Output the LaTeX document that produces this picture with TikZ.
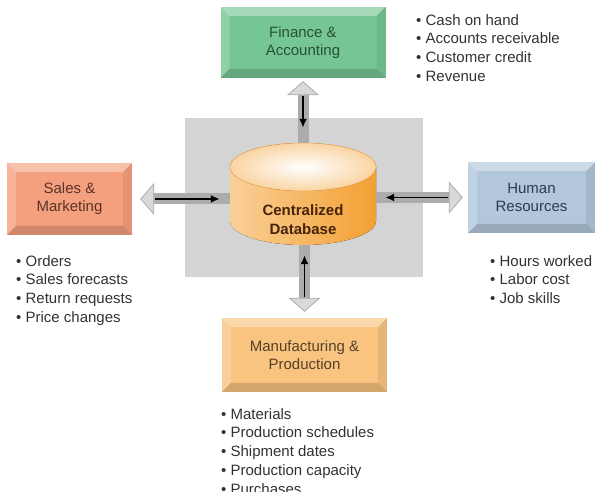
\documentclass[tikz,border=0pt]{standalone}
\usepackage{fontspec}
\setmainfont{Liberation Sans}
\usetikzlibrary{shapes,arrows.meta}

\definecolor{fincol}{RGB}{118,198,148}
\definecolor{fintext}{RGB}{40,80,55}
\definecolor{salescol}{RGB}{244,160,126}
\definecolor{salestext}{RGB}{90,50,40}
\definecolor{hrcol}{RGB}{178,199,219}
\definecolor{hrtext}{RGB}{45,60,75}
\definecolor{mfgcol}{RGB}{248,196,128}
\definecolor{mfgtext}{RGB}{85,65,40}
\definecolor{dbcol}{RGB}{243,160,50}
\definecolor{dbtext}{RGB}{70,35,10}
\definecolor{backgray}{RGB}{212,212,212}
\definecolor{listtext}{RGB}{50,50,50}

% raised frame drawn inside each department box
\newcommand{\bevelframe}{%
  \path (path picture bounding box.south west) coordinate (bsw)
        (path picture bounding box.north east) coordinate (bne)
        (bsw |- bne) coordinate (bnw) (bne |- bsw) coordinate (bse);
  \fill[white, opacity=0.35] (bnw) -- (bne) -- ([shift={(-9pt,-9pt)}]bne) -- ([shift={(9pt,-9pt)}]bnw) -- cycle;
  \fill[white, opacity=0.2] (bnw) -- (bsw) -- ([shift={(9pt,9pt)}]bsw) -- ([shift={(9pt,-9pt)}]bnw) -- cycle;
  \fill[black, opacity=0.15] (bsw) -- (bse) -- ([shift={(-9pt,9pt)}]bse) -- ([shift={(9pt,9pt)}]bsw) -- cycle;
  \fill[black, opacity=0.07] (bse) -- (bne) -- ([shift={(-9pt,-9pt)}]bne) -- ([shift={(-9pt,9pt)}]bse) -- cycle;
}

\tikzstyle{dept} = [rectangle, text centered, align=center, inner sep=0pt,
font=\fontsize{15}{18}\selectfont, path picture={\bevelframe}]
\tikzstyle{dbtext} = [align=center, text=dbtext, font=\fontsize{15}{19}\selectfont\bfseries]
\tikzstyle{facts} = [anchor=north west, align=left, inner sep=0pt, text=listtext,
font=\fontsize{15}{18.8}\selectfont]
\tikzstyle{link} = [draw=gray!65, line width=11pt,
-{Triangle[length=14pt, width=32pt, line width=0.8pt, fill=gray!30]}]
\tikzstyle{feed} = [draw=black, line width=1.8pt, -{Latex[length=9pt, width=8pt]}]

\begin{document}
\begin{tikzpicture}[x=1pt, y=1pt]
		\useasboundingbox (0,0) rectangle (597,492);
		% grey backdrop and the database cylinder
		\fill[backgray] (185,215) rectangle (423,374);
		\fill[left color=dbcol!50, right color=dbcol] (230,325) -- (230,271)
		arc[start angle=180, end angle=360, x radius=73, y radius=24] -- (376,325) -- cycle;
		\fill[inner color=white, outer color=dbcol!45] (303,325) ellipse[x radius=73, y radius=24];
		\draw[dbcol!85, line width=0.5pt] (303,325) ellipse[x radius=73, y radius=24];
		\node [minimum width=146pt, minimum height=102pt] (db) at (303,298) {};
		\node [dbtext] (dblabel) at (303,272) {Centralized\\Database};
		% departments
		\node [dept, fill=fincol, text=fintext, minimum width=165pt, minimum height=71pt,
		above of=db, node distance=151.5pt] (fin) {Finance \&\\Accounting};
		\node [dept, fill=salescol, text=salestext, minimum width=125pt, minimum height=72pt,
		left of=db, node distance=233.5pt, yshift=-5pt] (sales) {Sales \&\\Marketing};
		\node [dept, fill=hrcol, text=hrtext, minimum width=127pt, minimum height=71pt,
		right of=db, node distance=228.5pt, yshift=-3.5pt] (hr) {Human\\Resources};
		\node [dept, fill=mfgcol, text=mfgtext, minimum width=165pt, minimum height=74pt,
		below of=db, node distance=161pt, xshift=1.5pt] (mfg) {Manufacturing \&\\Production};
		% data kept by each department
		\node [facts] (finlist) at (416,478) {• Cash on hand\\• Accounts receivable\\• Customer credit\\• Revenue};
		\node [facts] (saleslist) at (16,237) {• Orders\\• Sales forecasts\\• Return requests\\• Price changes};
		\node [facts] (hrlist) at (490,237) {• Hours worked\\• Labor cost\\• Job skills};
		\node [facts] (mfglist) at (221,84) {• Materials\\• Production schedules\\• Shipment dates\\• Production capacity\\• Purchases};
		% two-way links
		\path [link, shorten >=3pt] (db.north) -- (fin.south);
		\path [feed, shorten <=18pt, shorten >=15pt] (fin.south) -- (db.north);
		\path [link, shorten >=8pt] (sales.east -| db.west) -- (sales.east);
		\path [feed, shorten <=23pt, shorten >=10pt] (sales.east) -- (sales.east -| db.west);
		\path [link, shorten >=5pt] (hr.west -| db.east) -- (hr.west);
		\path [feed, shorten <=20pt, shorten >=9pt] (hr.west) -- (hr.west -| db.east);
		\path [link, shorten >=6pt] (mfg.north |- db.south) -- (mfg.north);
		\path [feed, shorten <=21pt, shorten >=10pt] (mfg.north) -- (mfg.north |- db.south);
	\end{tikzpicture}
\end{document}
